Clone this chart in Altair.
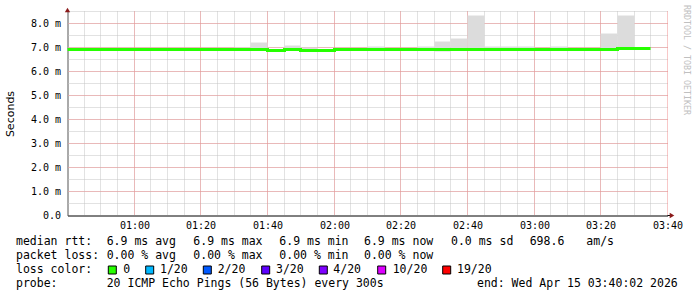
import altair as alt
import pandas as pd

# ---------------- data ----------------
start_min = 40          # 00:40
step_min = 5            # 5-minute steps
median_ms = [6.90, 6.90, 6.90, 6.90, 6.92, 6.90, 6.90, 6.90, 6.92, 6.93,
             6.93, 6.90, 6.89, 6.93, 6.89, 6.89, 6.93, 6.93, 6.92, 6.93,
             6.93, 6.93, 6.93, 6.93, 6.91, 6.90, 6.90, 6.92, 6.93, 6.93,
             6.91, 6.90, 6.90, 6.95, 6.95]
smoke_lo_ms = [6.88, 6.88, 6.88, 6.88, 6.90, 6.88, 6.88, 6.88, 6.86, 6.87,
               6.90, 6.88, 6.87, 6.90, 6.87, 6.87, 6.87, 6.90, 6.90, 6.90,
               6.90, 6.90, 6.85, 6.87, 6.88, 6.88, 6.88, 6.90, 6.90, 6.87,
               6.89, 6.88, 6.88, 6.92, 6.92]
smoke_hi_ms = [6.93, 6.93, 6.93, 6.93, 6.94, 6.93, 6.93, 6.93, 6.94, 6.95,
               7.00, 7.21, 6.92, 7.08, 7.00, 6.92, 6.95, 6.95, 7.04, 6.96,
               6.96, 7.06, 7.25, 7.39, 8.33, 7.06, 7.06, 7.04, 6.96, 7.04,
               6.94, 6.93, 7.60, 8.33, 6.97]

x_tick_values = [60, 80, 100, 120, 140, 160, 180, 200, 220]
x_tick_labels = ["01:00", "01:20", "01:40", "02:00", "02:20", "02:40",
                 "03:00", "03:20", "03:40"]
y_tick_values = [0, 1, 2, 3, 4, 5, 6, 7, 8]
y_tick_labels = ["0.0", "1.0 m", "2.0 m", "3.0 m", "4.0 m", "5.0 m",
                 "6.0 m", "7.0 m", "8.0 m"]
x_minor_grid = list(range(45, 220, 5))
y_minor_grid = [0.5 * i for i in range(1, 18)]

legend_line1 = ["median rtt:", "6.9 ms avg", "6.9 ms max", "6.9 ms min",
                "6.9 ms now", "0.0 ms sd", "698.6", "am/s"]
legend_line2 = ["packet loss:", "0.00 % avg", "0.00 % max", "0.00 % min",
                "0.00 % now"]
legend_line3 = ["loss color:"]
loss_labels = ["0", "1/20", "2/20", "3/20", "4/20", "10/20", "19/20"]
loss_colors = ["#26ff00", "#00b8ff", "#0059ff", "#5e00ff", "#7e00ff",
               "#dd00ff", "#ff0000"]
legend_line4 = ["probe:", "20 ICMP Echo Pings (56 Bytes) every 300s",
                "end: Wed Apr 15 03:40:02 2026"]
watermark = "RRDTOOL / TOBI OETIKER"
y_title = "Seconds"

# ---------------- layout (pixels) ----------------
W, H = 600, 204
PL, PT = 67.5, 11.5
PR, PB = 697 - W - PL, 297 - H - PT
MONO = "DejaVu Sans Mono"
SANS = "DejaVu Sans"

line1_x = [16, 106.7, 193.3, 279.3, 364, 451, 529.7, 586.3]
line2_x = [16, 106.7, 193.3, 279.3, 364]
line3_x = [16]
line4_x = [16, 106.7, 477]
square_x = [108.3, 145.7, 203.3, 261.7, 319.3, 377.7, 442.7]
swatch_text_x = [123.3, 160, 217.7, 276, 333.3, 392.7, 457]
baselines = [245, 259, 273, 287]

# ---------------- tables ----------------
t0 = [start_min + step_min * i for i in range(len(median_ms))]
t1 = [t + step_min for t in t0]
smoke = pd.DataFrame({"t0": t0, "t1": t1, "lo": smoke_lo_ms, "hi": smoke_hi_ms})
med = pd.DataFrame({"t": t0 + [t1[-1]], "m": median_ms + [median_ms[-1]]})

xs = alt.Scale(domain=[40, 220], nice=False, zero=False, round=True)
ys = alt.Scale(domain=[0, 8.5], nice=False, zero=True, round=True)

x_label_expr = "[" + ",".join(f"'{s}'" for s in x_tick_labels) + "][(datum.value-60)/20]"
y_label_expr = "[" + ",".join(f"'{s}'" for s in y_tick_labels) + "][datum.value]"

xax = alt.Axis(values=x_tick_values, labelExpr=x_label_expr,
               ticks=False, grid=False, domainColor="#000000",
               domainWidth=1, labelFont=MONO, labelFontSize=10,
               labelColor="#000000", labelPadding=5, title=None,
               labelFlush=False)
yax = alt.Axis(values=y_tick_values, labelExpr=y_label_expr,
               ticks=False, grid=False, domainColor="#555555",
               domainWidth=1, labelFont=MONO, labelFontSize=10,
               labelColor="#000000", labelPadding=7, title=None)

dash = [1, 1]
minor_col = "#c4c4c4"
major_col = "#f09090"

grid_xm = alt.Chart(pd.DataFrame({"g": x_minor_grid})).mark_rule(
    color=minor_col, strokeDash=dash, strokeWidth=1).encode(
    x=alt.X("g:Q", scale=xs, axis=xax))
grid_ym = alt.Chart(pd.DataFrame({"g": y_minor_grid})).mark_rule(
    color=minor_col, strokeDash=dash, strokeWidth=1).encode(
    y=alt.Y("g:Q", scale=ys, axis=yax))
grid_xM = alt.Chart(pd.DataFrame({"g": x_tick_values})).mark_rule(
    color=major_col, strokeDash=dash, strokeWidth=1).encode(
    x=alt.X("g:Q", scale=xs, axis=xax))
grid_yM = alt.Chart(pd.DataFrame({"g": y_tick_values[1:]})).mark_rule(
    color=major_col, strokeDash=dash, strokeWidth=1).encode(
    y=alt.Y("g:Q", scale=ys, axis=yax))

smoke_layer = alt.Chart(smoke).mark_rect(color="#dcdcdc", strokeWidth=0).encode(
    x=alt.X("t0:Q", scale=xs, axis=xax),
    x2="t1:Q",
    y=alt.Y("lo:Q", scale=ys, axis=yax),
    y2="hi:Q",
)

median_layer = alt.Chart(med).mark_line(
    color="#26ff00", strokeWidth=3, interpolate="step-after").encode(
    x=alt.X("t:Q", scale=xs, axis=xax),
    y=alt.Y("m:Q", scale=ys, axis=yax),
)

# ---------- text / legend ----------
rows = []
for items, xs_, b in [(legend_line1, line1_x, baselines[0]),
                      (legend_line2, line2_x, baselines[1]),
                      (legend_line3, line3_x, baselines[2]),
                      (loss_labels, swatch_text_x, baselines[2]),
                      (legend_line4, line4_x, baselines[3])]:
    for s, px in zip(items, xs_):
        rows.append({"txt": s, "px": px - PL, "py": b - PT})
legend_df = pd.DataFrame(rows)
legend_text = alt.Chart(legend_df).mark_text(
    font=MONO, fontSize=11.5, align="left", baseline="alphabetic",
    color="#000000").encode(
    x=alt.X("px:Q", scale=None, axis=None), y=alt.Y("py:Q", scale=None, axis=None),
    text="txt:N")

sq_df = pd.DataFrame({
    "x1": [x - PL for x in square_x],
    "x2": [x + 8 - PL for x in square_x],
    "y1": [266 - PT] * len(square_x),
    "y2": [274 - PT] * len(square_x),
    "c": loss_colors,
})
squares = alt.Chart(sq_df).mark_rect(stroke="#000000", strokeWidth=1).encode(
    x=alt.X("x1:Q", scale=None, axis=None), x2="x2:Q",
    y=alt.Y("y1:Q", scale=None, axis=None), y2="y2:Q",
    fill=alt.Fill("c:N", scale=None, legend=None))

ytitle = alt.Chart(pd.DataFrame({"t": [y_title]})).mark_text(
    font=SANS, fontSize=11, angle=270, align="center", baseline="middle",
    color="#000000").encode(
    x=alt.value(10.5 - PL), y=alt.value(114 - PT), text="t:N")

wm = alt.Chart(pd.DataFrame({"t": [watermark]})).mark_text(
    font=MONO, fontSize=8.3, angle=90, align="left", baseline="middle",
    color="#c0c0c0").encode(
    x=alt.value(686 - PL), y=alt.value(5 - PT), text="t:N")

arrow_col = "#8b1a1a"
arrow_up = alt.Chart(pd.DataFrame({"a": [1]})).mark_point(
    shape="triangle-up", filled=True, size=28, color=arrow_col, opacity=1).encode(
    x=alt.value(0), y=alt.value(10 - PT))
arrow_right = alt.Chart(pd.DataFrame({"a": [1]})).mark_point(
    shape="triangle-right", filled=True, size=28, color=arrow_col, opacity=1).encode(
    x=alt.value(672 - PL), y=alt.value(H))
axis_ext = alt.Chart(pd.DataFrame({"a": [1]})).mark_rule(
    color="#000000", strokeWidth=1).encode(
    x=alt.value(W), x2=alt.value(670 - PL), y=alt.value(H))
y_ext = alt.Chart(pd.DataFrame({"a": [1]})).mark_rule(
    color="#555555", strokeWidth=1).encode(
    x=alt.value(0), y=alt.value(12 - PT), y2=alt.value(0))

chart = alt.layer(
    grid_xm, grid_ym, grid_xM, grid_yM,
    smoke_layer, median_layer,
    axis_ext, y_ext, arrow_up, arrow_right,
    ytitle, wm, legend_text, squares,
).resolve_scale(x="shared", y="shared").properties(
    width=W, height=H,
    padding={"left": PL, "top": PT, "right": PR, "bottom": PB},
    autosize=alt.AutoSizeParams(type="none"),
    background="#ffffff",
).configure_view(stroke=None)

chart.save("out.html", embed_options={"renderer": "svg", "actions": False})
